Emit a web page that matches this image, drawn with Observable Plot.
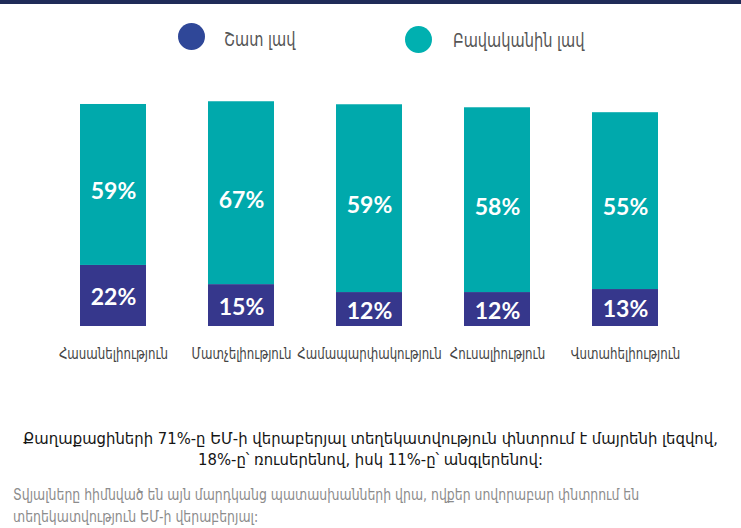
<!DOCTYPE html>
<html><head><meta charset="utf-8">
<script src="https://cdn.jsdelivr.net/npm/d3@7"></script>
<script src="https://cdn.jsdelivr.net/npm/@observablehq/plot@0.6"></script>
<style>
body{margin:0;background:#fff;}
#wrap{position:relative;width:741px;height:528px;overflow:hidden;font-family:"DejaVu Sans Condensed","DejaVu Sans",sans-serif;background:#fff;}
#topbar{position:absolute;left:0;top:0;width:741px;height:4px;background:#1f2b58;}
.dot{position:absolute;width:27px;height:27px;border-radius:50%;}
.legtxt{position:absolute;font-size:20px;color:#555;line-height:24px;white-space:nowrap;transform-origin:left center;transform:translateY(-50%) scaleX(0.81);}
#chart{position:absolute;left:0;top:60px;}
#title{position:absolute;left:0;width:741px;top:428px;text-align:center;font-size:16.5px;line-height:21px;color:#151515;white-space:nowrap;}
#note{position:absolute;left:13px;top:484px;font-size:16.5px;line-height:22px;color:#8c8c8c;white-space:nowrap;transform-origin:left top;transform:scaleX(0.84);}
</style></head>
<body>
<div id="wrap">
  <div id="topbar"></div>
  <div id="legend"></div>
  <div id="chart"></div>
  <div id="title"></div>
  <div id="note"></div>
</div>
<script>
// ---- data ----
const categories = ["Հասանելիություն", "Մատչելիություն", "Համապարփակություն", "Հուսալիություն", "Վստահելիություն"];
const seriesNames = ["Շատ լավ", "Բավականին լավ"];
const seriesColors = ["#36378c", "#00a9ac"];
const legendColors = ["#2f4798", "#00b0b0"];
// labelled values (%)
const veryGood = [22, 15, 12, 12, 13];
const fairlyGood = [59, 67, 59, 58, 55];
// segment lengths as drawn in the reference (% units)
const veryGoodBar = [22.3, 15.3, 12.4, 12.4, 13.5];
const fairlyGoodBar = [58.8, 66.8, 68.6, 67.5, 64.6];
const titleLines = ["Քաղաքացիների 71%-ը ԵՄ-ի վերաբերյալ տեղեկատվություն փնտրում է մայրենի լեզվով,", "18%-ը՝ ռուսերենով, իսկ 11%-ը՝ անգլերենով:"];
const noteLines = ["Տվյալները հիմնված են այն մարդկանց պատասխանների վրա, ովքեր սովորաբար փնտրում են", "տեղեկատվություն ԵՄ-ի վերաբերյալ:"];

// ---- table ----
const rows = [];
categories.forEach((c, i) => {
  rows.push({cat: c, series: seriesNames[0], y1: 0, y2: veryGoodBar[i], label: veryGood[i] + "%", low: true});
  rows.push({cat: c, series: seriesNames[1], y1: veryGoodBar[i], y2: veryGoodBar[i] + fairlyGoodBar[i], label: fairlyGood[i] + "%", low: false});
});

// ---- legend ----
const legend = document.getElementById("legend");
const legPos = [{cx: 191.7, cy: 36.7, tx: 224, ty: 39}, {cx: 418, cy: 39.3, tx: 453, ty: 40}];
seriesNames.forEach((s, i) => {
  const d = document.createElement("div");
  d.className = "dot";
  d.style.background = legendColors[i];
  d.style.left = (legPos[i].cx - 13.5) + "px";
  d.style.top = (legPos[i].cy - 13.5) + "px";
  legend.appendChild(d);
  const t = document.createElement("div");
  t.className = "legtxt";
  t.textContent = s;
  t.style.left = legPos[i].tx + "px";
  t.style.top = legPos[i].ty + "px";
  legend.appendChild(t);
});

// ---- chart ----
const labelStyle = {x: "cat", y: d => (d.y1 + d.y2) / 2, text: "label", fill: "white", fontSize: 23, fontWeight: "bold", fontFamily: "Lato"};
const chart = Plot.plot({
  width: 741,
  height: 315,
  marginLeft: 16,
  marginRight: 18.5,
  marginTop: 47,
  marginBottom: 49,
  style: {fontFamily: '"DejaVu Sans Condensed","DejaVu Sans",sans-serif', background: "transparent"},
  x: {domain: categories, padding: 0.487, label: null},
  y: {domain: [0, 80], axis: null},
  color: {domain: seriesNames, range: seriesColors},
  marks: [
    Plot.barY(rows, {x: "cat", y1: "y1", y2: "y2", fill: "series"}),
    Plot.text(rows.filter(r => r.low), {...labelStyle, dy: 2}),
    Plot.text(rows.filter(r => !r.low), {...labelStyle, dy: 7}),
    Plot.axisX({tickSize: 0, tickPadding: 21, fontSize: 16, color: "#444", label: null})
  ]
});
document.getElementById("chart").appendChild(chart);
// condense axis tick labels horizontally (reference uses a narrow face)
chart.querySelectorAll('g[aria-label="x-axis tick label"] text').forEach(t => {
  const tr = t.getAttribute("transform") || "";
  t.setAttribute("transform", (tr + " scale(0.82,1)").trim());
});

document.getElementById("title").innerHTML = titleLines.join("<br>");
document.getElementById("note").innerHTML = noteLines.join("<br>");
</script>
</body></html>
